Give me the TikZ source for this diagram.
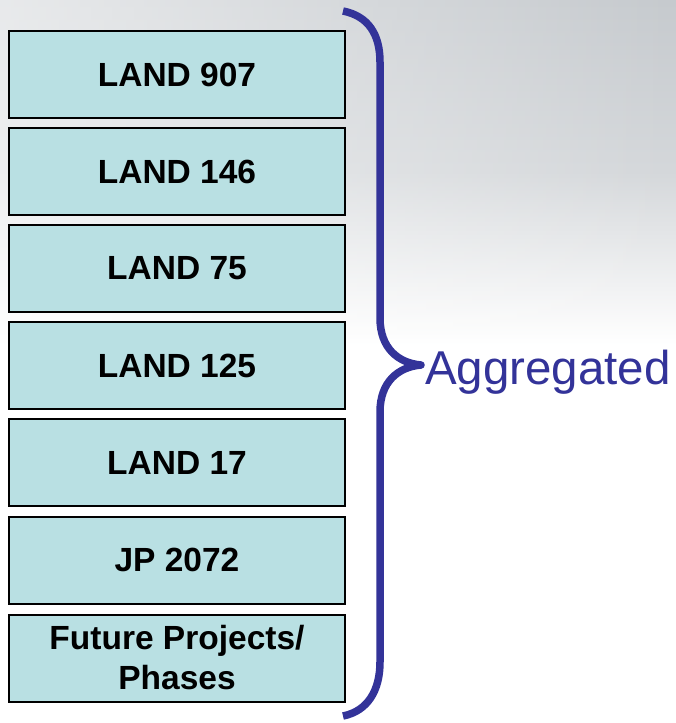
\documentclass[tikz,border=0pt]{standalone}
\usepackage{fontspec}
\setmainfont{Liberation Sans}
\usetikzlibrary{positioning,fadings}
\definecolor{boxfill}{HTML}{B9E0E3}
\definecolor{bracecol}{HTML}{333399}
\definecolor{bgtop}{HTML}{C6CACE}
\tikzset{
  landbox/.style={draw=black, line width=2pt, fill=boxfill, minimum width=336pt, minimum height=87pt,
    inner sep=0pt, align=center, font=\fontsize{33.5}{40}\selectfont\bfseries},
}
\begin{document}
\begin{tikzpicture}[x=1pt,y=-1pt]
\useasboundingbox (0,0) rectangle (676,723);
% background
\fill[white] (0,0) rectangle (676,723);
\shade[top color=bgtop, bottom color=white, middle color=bgtop!75] (0,0) rectangle (676,345);
\fill[white, path fading=east, opacity=0.6] (0,0) rectangle (676,345);
% boxes
\node[landbox] (b1) at (177,74.5) {LAND 907};
\node[landbox] (b2) at (177,171.5) {LAND 146};
\node[landbox] (b3) at (177,268.5) {LAND 75};
\node[landbox] (b4) at (177,365.5) {LAND 125};
\node[landbox] (b5) at (177,462.5) {LAND 17};
\node[landbox] (b6) at (177,560) {JP 2072};
\node[landbox] (b7) at (177,658) {Future Projects/\\Phases};
% brace
\coordinate (tip) at (421,365);
\draw[bracecol, line width=7.5pt, line cap=butt, line join=round]
  (343,11) .. controls (368,16) and (380,34) .. (380,62)
  -- (380,318) .. controls (380,348) and (398,363) .. (tip)
  .. controls (398,367) and (380,382) .. (380,412)
  -- (380,662) .. controls (380,690) and (368,711) .. (343,716);
\node[anchor=west, text=bracecol, font=\fontsize{47.5}{56}\selectfont, inner sep=0pt] (agg) at (425,372) {Aggregated};
\end{tikzpicture}
\end{document}
